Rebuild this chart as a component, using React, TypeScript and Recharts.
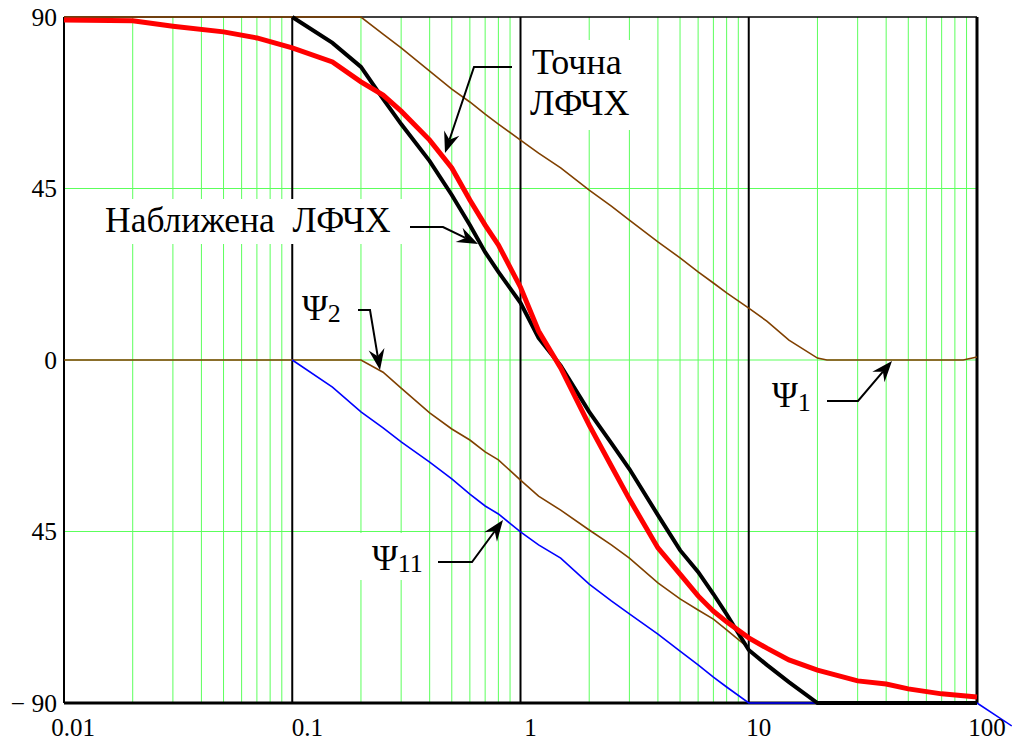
import React from "react";
import { LineChart, Line, XAxis, YAxis, ReferenceLine } from "recharts";

const W = 1012;
const H = 742;
const FONT = '"Liberation Serif", "Times New Roman", serif';
const GREEN = "#5cff5c";
const BROWN = "#804000";

// axis ticks
const xTicks = [0.01, 0.1, 1, 10, 100];
const xTickLabels = ["0.01", "0.1", "1", "10", "100"];
const yTicks = [-90, -45, 0, 45, 90];
const yTickLabels = ["\u2212 90", "45", "0", "45", "90"];
// Mathcad puts the frequency labels a little right of their grid line
const xLabelShift = [9, 15, 10, 10, 10];

// log grid
const decades = [0.01, 0.1, 1, 10];
const minorSteps = [2, 3, 4, 5, 6, 7, 8, 9];
const majorLines = [0.1, 1, 10];
const minorGrid = decades.flatMap((d) => minorSteps.map((m) => +(d * m).toPrecision(3)));

// точна ЛФЧХ (red)
const exactFreq = [0.01, 0.02, 0.03, 0.05, 0.07, 0.1, 0.15, 0.2, 0.25, 0.3, 0.4, 0.5, 0.6, 0.7, 0.8, 1, 1.2, 1.5, 2, 2.5, 3, 4, 5, 6, 7, 8, 10, 12, 15, 20, 30, 40, 50, 70, 100];
const exactPhase = [89.2, 89.0, 87.6, 86.1, 84.5, 81.9, 78.2, 73.0, 69.5, 65.3, 57.7, 50.4, 42.0, 35.4, 30.2, 19.1, 7.6, -2.1, -17.1, -27.8, -36.5, -49.3, -56.2, -61.9, -65.9, -68.7, -72.9, -75.6, -78.7, -81.4, -84.2, -85.0, -86.3, -87.6, -88.4];

// наближена ЛФЧХ (black)
const approxFreq = [0.1, 0.15, 0.2, 0.25, 0.3, 0.4, 0.5, 0.6, 0.7, 0.8, 1, 1.2, 1.5, 2, 2.5, 3, 4, 5, 6, 7, 8, 10, 12, 15, 20, 100];
const approxPhase = [90, 83.2, 76.9, 68.5, 61.9, 52.2, 43.3, 35.4, 28.3, 23.1, 15.0, 5.8, -1.5, -13.6, -21.8, -28.6, -40.7, -49.9, -55.6, -61.4, -66.7, -76.1, -80.0, -84.5, -90, -90];

// Ψ1
const psi1Freq = [0.01, 0.2, 0.25, 0.3, 0.4, 0.5, 0.6, 0.7, 0.8, 1, 1.2, 1.5, 2, 2.5, 3, 4, 5, 6, 7, 8, 10, 12, 15, 20, 22, 87, 100];
const psi1Phase = [90, 90, 85.5, 81.9, 75.8, 71.1, 67.7, 64.5, 61.9, 57.7, 54.3, 50.4, 44.6, 40.4, 36.7, 31.0, 26.8, 23.1, 20.2, 17.6, 13.6, 10.2, 5.2, 0.5, 0, 0, 0.8];

// Ψ2
const psi2Freq = [0.01, 0.2, 0.25, 0.3, 0.4, 0.5, 0.6, 0.7, 0.8, 1, 1.2, 1.5, 2, 2.5, 3, 4, 5, 6, 7, 8, 10];
const psi2Phase = [0, 0, -3.2, -7.4, -13.9, -18.1, -21.0, -24.1, -26.2, -31.5, -35.7, -39.4, -44.6, -48.5, -52.0, -58.5, -62.7, -65.6, -68.0, -70.8, -75.6];

// Ψ11
const psi11Freq = [0.1, 0.15, 0.2, 0.25, 0.3, 0.4, 0.5, 0.6, 0.7, 0.8, 1, 1.2, 1.5, 2, 2.5, 3, 4, 5, 6, 7, 8, 10, 100];
const psi11Phase = [0, -7.1, -13.6, -17.8, -21.5, -26.8, -31.2, -35.2, -38.3, -40.4, -45.1, -48.5, -52.0, -58.8, -63.2, -66.6, -71.9, -76.4, -80.0, -83.2, -85.8, -90, -90];
// Ψ11 running on past the right border
const psi11Tail = [{ x: 100, y: -90 }, { x: 142, y: -96 }];

const toPoints = (f: number[], v: number[]) => f.map((x, i) => ({ f: x, v: v[i] }));

const XTick = ({ x, y, payload }: any) => {
  const i = xTicks.indexOf(payload.value);
  return (
    <text x={x + xLabelShift[i]} y={y} dy={25} textAnchor="middle" fontFamily={FONT} fontSize={25} fill="#000">
      {xTickLabels[i]}
    </text>
  );
};

const YTick = ({ x, y, payload }: any) => {
  const i = yTicks.indexOf(payload.value);
  return (
    <text x={x + 1} y={y} dy="0.35em" textAnchor="end" fontFamily={FONT} fontSize={25.5} fill="#000">
      {yTickLabels[i]}
    </text>
  );
};

type Pt = [number, number];

// leader line with a filled, notched arrow head at the last point
const Arrow = ({ pts }: { pts: Pt[] }) => {
  const [tx, ty] = pts[pts.length - 1];
  const [px, py] = pts[pts.length - 2];
  const len = Math.hypot(tx - px, ty - py);
  const ux = (tx - px) / len;
  const uy = (ty - py) / len;
  const L = 21;
  const hw = 8;
  const notch = 14;
  const bx = tx - ux * L;
  const by = ty - uy * L;
  const nx = tx - ux * notch;
  const ny = ty - uy * notch;
  const head = `M${tx},${ty} L${bx - uy * hw},${by + ux * hw} L${nx},${ny} L${bx + uy * hw},${by - ux * hw} Z`;
  const shaft = [...pts.slice(0, -1), [nx, ny] as Pt].map((p) => p.join(",")).join(" ");
  return (
    <g>
      <polyline points={shaft} fill="none" stroke="#000" strokeWidth={2} />
      <path d={head} fill="#000" />
    </g>
  );
};

const Annotations = () => (
  <svg width={W} height={H} style={{ position: "absolute", left: 0, top: 0, pointerEvents: "none" }}>
    <g fill="#fff">
      <rect x={525} y={40} width={117} height={90} />
      <rect x={100} y={199} width={305} height={45} />
      <rect x={296} y={285} width={50} height={42} />
      <rect x={358} y={533} width={67} height={47} />
      <rect x={765} y={378} width={47} height={40} />
    </g>
    <g fontFamily={FONT} fill="#000">
      <text x={532} y={74} fontSize={36}>Точна</text>
      <text x={530} y={115} fontSize={36}>ЛФЧХ</text>
      <text x={105} y={232} fontSize={35.5} style={{ whiteSpace: "pre" }}>Наближена  ЛФЧХ</text>
      <text x={302} y={320} fontSize={35}>
        Ψ<tspan fontSize={26} dy={2}>2</tspan>
      </text>
      <text x={372} y={570} fontSize={35}>
        Ψ<tspan fontSize={26} dy={2}>11</tspan>
      </text>
      <text x={772} y={407} fontSize={35}>
        Ψ<tspan fontSize={26} dy={4}>1</tspan>
      </text>
    </g>
    <Arrow pts={[[512, 67], [474, 67], [445, 153]]} />
    <Arrow pts={[[410, 227], [443, 227], [478, 244]]} />
    <Arrow pts={[[358, 310], [370, 310], [380, 370]]} />
    <Arrow pts={[[438, 562], [472, 562], [503, 520]]} />
    <Arrow pts={[[827, 401], [858, 401], [892, 361]]} />
  </svg>
);

const App = () => {
  return (
    <div style={{ position: "absolute", left: 0, top: 0, width: W, height: H, background: "#fff" }}>
      <LineChart width={W} height={H} margin={{ top: 17, right: 35, bottom: 0, left: 0 }}>
        <XAxis
          type="number"
          dataKey="f"
          scale="log"
          domain={[0.01, 100]}
          ticks={xTicks}
          axisLine={false}
          tickLine={false}
          height={39}
          tick={<XTick />}
        />
        <YAxis
          type="number"
          domain={[-90, 90]}
          ticks={yTicks}
          axisLine={false}
          tickLine={false}
          width={64}
          tick={<YTick />}
        />

        {/* green grid */}
        {minorGrid.map((v) => (
          <ReferenceLine key={"g" + v} x={v} stroke={GREEN} strokeWidth={1} />
        ))}
        {[-45, 0, 45].map((v) => (
          <ReferenceLine key={"h" + v} y={v} stroke={GREEN} strokeWidth={1} />
        ))}
        {/* decades + frame */}
        {majorLines.map((v) => (
          <ReferenceLine key={"m" + v} x={v} stroke="#000" strokeWidth={2} />
        ))}
        <ReferenceLine x={0.01} stroke="#000" strokeWidth={2} />
        <ReferenceLine x={100} stroke="#000" strokeWidth={3} />
        <ReferenceLine y={90} stroke="#000" strokeWidth={1.5} />
        <ReferenceLine y={-90} stroke="#000" strokeWidth={3} />

        <ReferenceLine segment={psi11Tail} stroke="#0000ff" strokeWidth={1.5} ifOverflow="visible" />

        <Line data={toPoints(psi1Freq, psi1Phase)} dataKey="v" type="linear" stroke={BROWN} strokeWidth={1.6} dot={false} activeDot={false} isAnimationActive={false} />
        <Line data={toPoints(psi2Freq, psi2Phase)} dataKey="v" type="linear" stroke={BROWN} strokeWidth={1.6} dot={false} activeDot={false} isAnimationActive={false} />
        <Line data={toPoints(psi11Freq, psi11Phase)} dataKey="v" type="linear" stroke="#0000ff" strokeWidth={1.6} dot={false} activeDot={false} isAnimationActive={false} />
        <Line data={toPoints(approxFreq, approxPhase)} dataKey="v" type="linear" stroke="#000" strokeWidth={4} dot={false} activeDot={false} isAnimationActive={false} />
        <Line data={toPoints(exactFreq, exactPhase)} dataKey="v" type="linear" stroke="#ff0000" strokeWidth={5} dot={false} activeDot={false} isAnimationActive={false} />
      </LineChart>
      <Annotations />
    </div>
  );
};

export default App;
